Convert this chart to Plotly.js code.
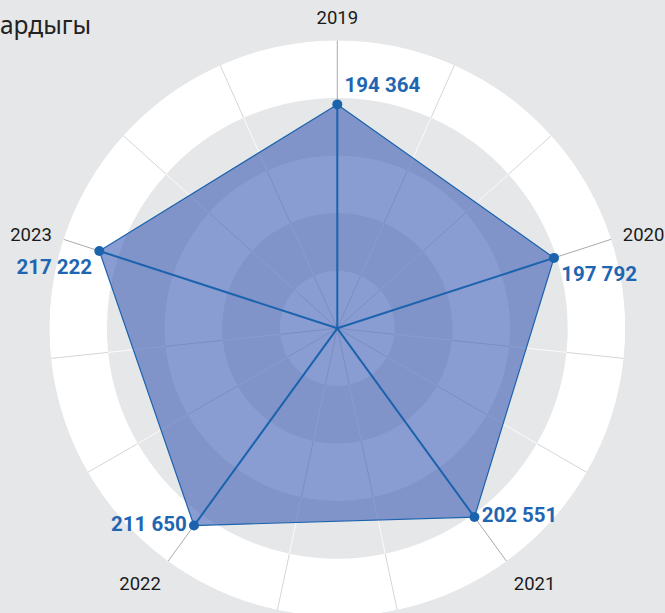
<!DOCTYPE html>
<html>
<head>
<meta charset="utf-8">
<script src="https://cdn.plot.ly/plotly-3.0.1.min.js"></script>
<style>
html,body{margin:0;padding:0;overflow:hidden;background:#e6e7e9;}
#chart{width:665px;height:630px;}
</style>
</head>
<body>
<div id="chart"></div>
<script>
// ---- data ----
var years = ['2019', '2020', '2021', '2022', '2023'];
var values = [194364, 197792, 202551, 211650, 217222];
var labelPositions = ['top right', 'bottom right', 'middle right', 'middle left', 'bottom left'];
var titleText = 'ардыгы';

// ---- scales / styling ----
var rMax = 250000;
var bandStep = 50000;
var spokeCount = 15;
var spokeStep = 360 / spokeCount;
var catStep = 360 / years.length;

function fmt(v) { return String(v).replace(/\B(?=(\d{3})+(?!\d))/g, ' '); }

var catAngles = years.map(function (y, i) { return i * catStep; });

// background bands (alternating white / grey) drawn as polar bars
var bandTheta = [], bandBase = [], bandR = [], bandColor = [], bandWidth = [];
for (var b = 0; b * bandStep < rMax; b++) {
  for (var k = 0; k < spokeCount; k++) {
    bandTheta.push(k * spokeStep + spokeStep / 2);
    bandBase.push(b * bandStep);
    bandR.push(bandStep);
    bandWidth.push(spokeStep);
    bandColor.push(b % 2 === 0 ? '#ffffff' : '#e6e7e9');
  }
}

// light spokes (non-category), split per band for contrast
var spokeGreyR = [], spokeGreyT = [], spokeWhiteR = [], spokeWhiteT = [];
for (var k = 0; k < spokeCount; k++) {
  var a = k * spokeStep;
  if (Math.abs(a / catStep - Math.round(a / catStep)) < 1e-9) continue;
  for (var b = 0; b * bandStep < rMax; b++) {
    if (b % 2 === 0) {
      spokeGreyR.push(b * bandStep, (b + 1) * bandStep, null);
      spokeGreyT.push(a, a, null);
    } else {
      spokeWhiteR.push(b * bandStep, (b + 1) * bandStep, null);
      spokeWhiteT.push(a, a, null);
    }
  }
}

// category spokes (grey, full length) and blue value spokes
var catSpokeR = [], catSpokeT = [], valSpokeR = [], valSpokeT = [];
catAngles.forEach(function (a, i) {
  catSpokeR.push(0, rMax, null); catSpokeT.push(a, a, null);
  valSpokeR.push(0, values[i], null); valSpokeT.push(a, a, null);
});

var blue = '#1c63ad';

var traces = [
  {type: 'barpolar', theta: bandTheta, r: bandR, base: bandBase, width: bandWidth,
   marker: {color: bandColor, line: {width: 0}}, hoverinfo: 'skip', showlegend: false},
  {type: 'scatterpolar', mode: 'lines', r: spokeGreyR, theta: spokeGreyT,
   line: {color: '#d6d6d6', width: 1}, hoverinfo: 'skip', showlegend: false},
  {type: 'scatterpolar', mode: 'lines', r: spokeWhiteR, theta: spokeWhiteT,
   line: {color: '#fbfbfb', width: 1}, hoverinfo: 'skip', showlegend: false},
  {type: 'scatterpolar', mode: 'lines', r: catSpokeR, theta: catSpokeT,
   line: {color: '#ababab', width: 1}, hoverinfo: 'skip', showlegend: false},
  {type: 'scatterpolar', mode: 'lines', r: values.concat([values[0]]), theta: catAngles.concat([catAngles[0]]),
   fill: 'toself', fillcolor: 'rgba(68,100,184,0.63)',
   line: {color: blue, width: 1.2}, hoverinfo: 'skip', showlegend: false},
  {type: 'scatterpolar', mode: 'lines', r: valSpokeR, theta: valSpokeT,
   line: {color: blue, width: 2}, hoverinfo: 'skip', showlegend: false},
  {type: 'scatterpolar', mode: 'markers+text', r: values, theta: catAngles,
   text: values.map(fmt), textposition: labelPositions,
   textfont: {family: 'Roboto', size: 20.5, color: '#1f66b2', weight: 'bold'},
   marker: {color: blue, size: 10}, hoverinfo: 'skip', showlegend: false}
];

var W = 665, H = 630;
var cx = 337.3, cy = 328.3, R = 288;

var layout = {
  width: W, height: H,
  margin: {l: 0, r: 0, t: 0, b: 0},
  paper_bgcolor: '#e6e7e9',
  showlegend: false,
  title: {text: titleText, x: 0, xanchor: 'left', xref: 'paper',
          y: 1 - 25 / H, yanchor: 'middle', yref: 'paper',
          font: {family: 'Noto Sans', size: 24.5, color: '#222222'}},
  polar: {
    domain: {x: [(cx - R) / W, (cx + R) / W], y: [1 - (cy + R) / H, 1 - (cy - R) / H]},
    bgcolor: 'rgba(0,0,0,0)',
    barmode: 'overlay',
    radialaxis: {range: [0, rMax], visible: false, showgrid: false},
    angularaxis: {
      thetaunit: 'degrees', rotation: 90, direction: 'clockwise',
      tickmode: 'array', tickvals: catAngles, ticktext: years,
      showgrid: false, showline: false,
      ticks: 'outside', ticklen: 8, tickcolor: 'rgba(0,0,0,0)',
      tickfont: {family: 'Roboto', size: 18.5, color: '#1a1a1a'}
    }
  }
};

Plotly.newPlot('chart', traces, layout, {staticPlot: true, displayModeBar: false});
</script>
</body>
</html>
